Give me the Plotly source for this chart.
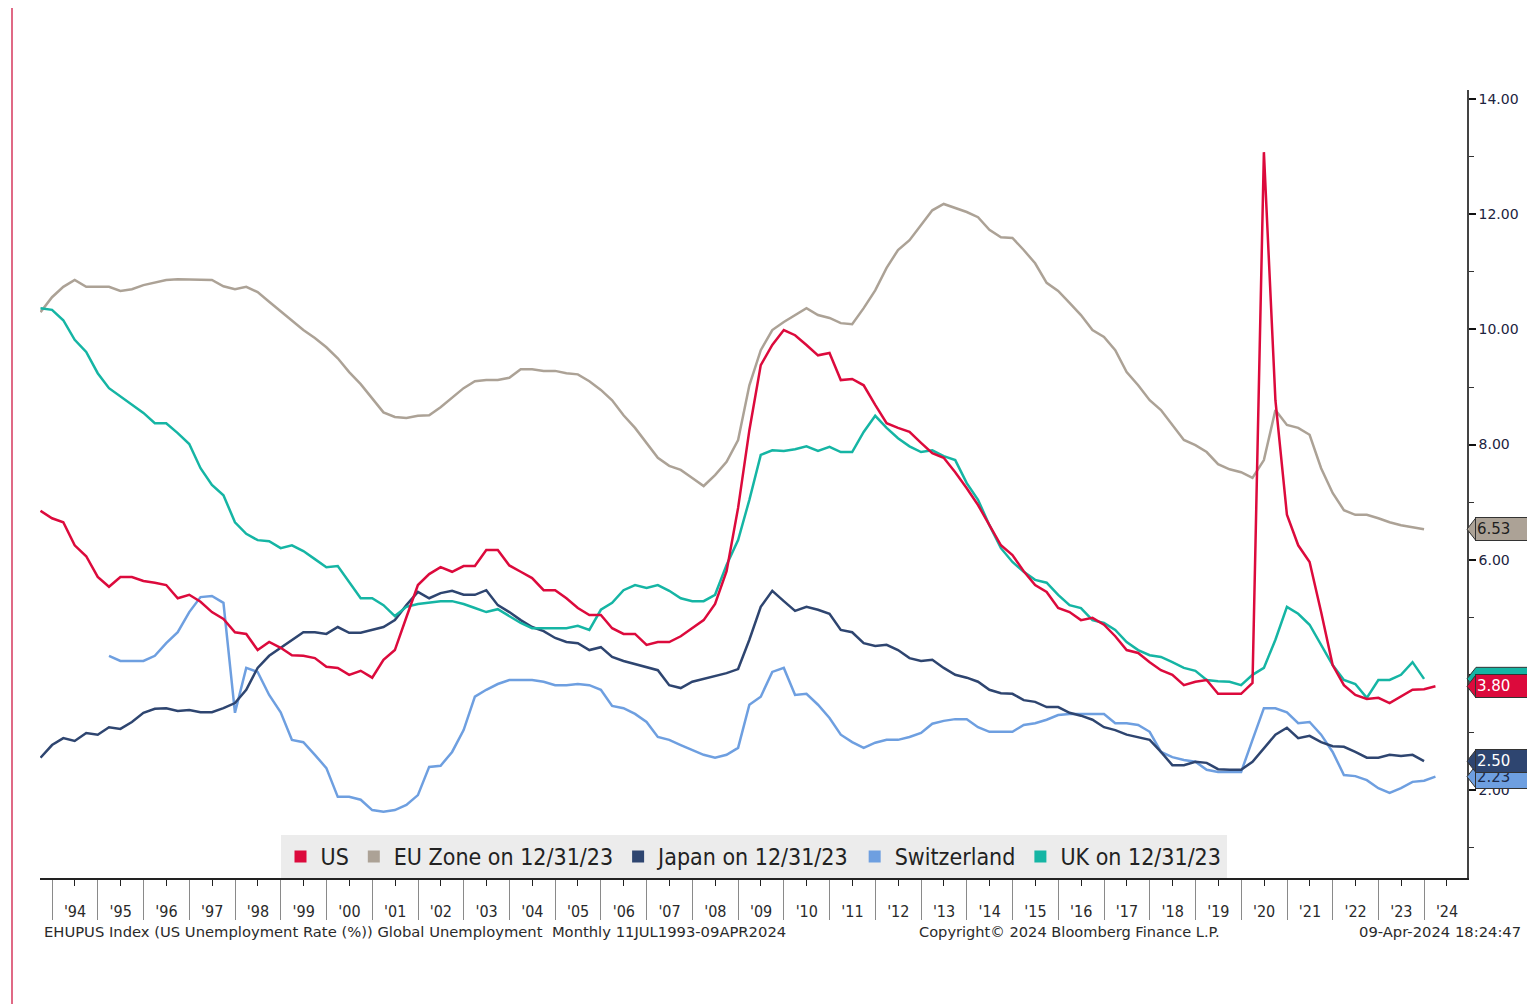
import pandas as pd
import plotly.graph_objects as go

# ---------------- data (quarterly) ----------------
start_quarter = "1993-09-30"
n_quarters = 123
swiss_offset = 6  # Switzerland starts 6 quarters later

us = [6.85, 6.72, 6.65, 6.25, 6.06, 5.70, 5.53, 5.70, 5.70, 5.63,
      5.60, 5.56, 5.33, 5.39, 5.27, 5.09, 4.97, 4.74, 4.71, 4.43,
      4.57, 4.47, 4.34, 4.33, 4.29, 4.14, 4.12, 4.00, 4.07, 3.95,
      4.26, 4.43, 5.00, 5.56, 5.75, 5.87, 5.79, 5.89, 5.89, 6.17,
      6.17, 5.90, 5.79, 5.68, 5.47, 5.47, 5.33, 5.16, 5.04, 5.04,
      4.81, 4.71, 4.71, 4.52, 4.57, 4.57, 4.67, 4.81, 4.95, 5.23,
      5.80, 6.90, 8.25, 9.38, 9.73, 9.99, 9.90, 9.73, 9.55, 9.59,
      9.12, 9.14, 9.03, 8.69, 8.37, 8.29, 8.22, 8.03, 7.85, 7.77,
      7.52, 7.24, 6.95, 6.60, 6.25, 6.08, 5.80, 5.56, 5.44, 5.16,
      5.09, 4.95, 4.99, 4.87, 4.67, 4.43, 4.38, 4.22, 4.08, 4.00,
      3.82, 3.88, 3.91, 3.67, 3.67, 3.67, 3.86, 13.08, 8.77, 6.78,
      6.25, 5.96, 5.09, 4.17, 3.82, 3.65, 3.58, 3.60, 3.51, 3.62,
      3.74, 3.75, 3.80]

eu = [10.30, 10.56, 10.74, 10.86, 10.74, 10.74, 10.74, 10.67, 10.70, 10.77,
      10.82, 10.86, 10.87, 10.87, 10.87, 10.86, 10.75, 10.70, 10.74, 10.65,
      10.48, 10.32, 10.15, 9.99, 9.85, 9.69, 9.50, 9.26, 9.05, 8.81,
      8.56, 8.48, 8.46, 8.50, 8.51, 8.65, 8.81, 8.98, 9.10, 9.12,
      9.12, 9.16, 9.31, 9.31, 9.28, 9.28, 9.24, 9.22, 9.10, 8.95,
      8.77, 8.51, 8.29, 8.03, 7.77, 7.63, 7.56, 7.42, 7.28, 7.47,
      7.70, 8.08, 9.03, 9.64, 9.99, 10.13, 10.25, 10.37, 10.25, 10.20,
      10.11, 10.09, 10.37, 10.68, 11.07, 11.38, 11.55, 11.81, 12.07, 12.18,
      12.11, 12.04, 11.95, 11.73, 11.60, 11.59, 11.38, 11.15, 10.81, 10.67,
      10.46, 10.25, 9.99, 9.87, 9.64, 9.26, 9.03, 8.77, 8.60, 8.34,
      8.08, 7.99, 7.87, 7.66, 7.57, 7.52, 7.42, 7.73, 8.60, 8.34,
      8.29, 8.17, 7.59, 7.16, 6.86, 6.78, 6.78, 6.72, 6.65, 6.60,
      6.57, 6.53]

uk = [10.37, 10.34, 10.16, 9.82, 9.61, 9.24, 8.98, 8.84, 8.69, 8.55,
      8.37, 8.37, 8.20, 8.01, 7.59, 7.30, 7.12, 6.65, 6.45, 6.34,
      6.32, 6.20, 6.25, 6.15, 6.01, 5.87, 5.89, 5.61, 5.33, 5.33,
      5.21, 5.02, 5.18, 5.23, 5.25, 5.28, 5.28, 5.23, 5.16, 5.09,
      5.14, 5.02, 4.90, 4.81, 4.81, 4.80, 4.81, 4.85, 4.78, 5.13,
      5.25, 5.47, 5.56, 5.51, 5.56, 5.46, 5.33, 5.28, 5.28, 5.39,
      5.91, 6.34, 7.04, 7.82, 7.90, 7.89, 7.92, 7.97, 7.89, 7.96,
      7.87, 7.87, 8.22, 8.50, 8.29, 8.11, 7.97, 7.87, 7.90, 7.80,
      7.73, 7.33, 7.04, 6.60, 6.20, 5.96, 5.79, 5.65, 5.60, 5.39,
      5.21, 5.16, 4.95, 4.90, 4.78, 4.57, 4.43, 4.34, 4.31, 4.22,
      4.12, 4.07, 3.91, 3.89, 3.88, 3.82, 4.00, 4.12, 4.61, 5.18,
      5.06, 4.87, 4.52, 4.17, 3.91, 3.84, 3.60, 3.91, 3.91, 4.00,
      4.22, 3.93]

japan = [2.56, 2.78, 2.90, 2.85, 2.99, 2.96, 3.09, 3.06, 3.18, 3.34,
         3.41, 3.42, 3.37, 3.39, 3.35, 3.35, 3.42, 3.51, 3.74, 4.12,
         4.33, 4.47, 4.61, 4.74, 4.74, 4.71, 4.83, 4.73, 4.73, 4.78,
         4.83, 4.95, 5.21, 5.44, 5.33, 5.42, 5.46, 5.39, 5.39, 5.47,
         5.21, 5.09, 4.95, 4.83, 4.76, 4.64, 4.57, 4.55, 4.43, 4.48,
         4.31, 4.24, 4.19, 4.14, 4.08, 3.82, 3.77, 3.88, 3.93, 3.98,
         4.03, 4.10, 4.61, 5.18, 5.46, 5.28, 5.11, 5.18, 5.13, 5.06,
         4.78, 4.74, 4.55, 4.50, 4.52, 4.43, 4.29, 4.24, 4.26, 4.12,
         4.00, 3.95, 3.88, 3.74, 3.68, 3.67, 3.56, 3.53, 3.44, 3.44,
         3.34, 3.29, 3.22, 3.09, 3.04, 2.96, 2.92, 2.87, 2.66, 2.43,
         2.43, 2.49, 2.47, 2.36, 2.35, 2.35, 2.49, 2.73, 2.96, 3.08,
         2.90, 2.94, 2.83, 2.76, 2.75, 2.66, 2.56, 2.56, 2.61, 2.59,
         2.61, 2.50]

switzerland = [4.33, 4.24, 4.24, 4.24, 4.33, 4.55, 4.74, 5.09, 5.35, 5.37,
               5.25, 3.34, 4.12, 4.05, 3.65, 3.35, 2.87, 2.83, 2.61, 2.38,
               1.88, 1.88, 1.83, 1.65, 1.62, 1.65, 1.74, 1.91, 2.40, 2.42,
               2.66, 3.04, 3.62, 3.74, 3.84, 3.91, 3.91, 3.91, 3.88, 3.82,
               3.82, 3.84, 3.82, 3.74, 3.46, 3.42, 3.32, 3.18, 2.92, 2.87,
               2.78, 2.69, 2.61, 2.56, 2.61, 2.73, 3.48, 3.62, 4.05, 4.12,
               3.65, 3.67, 3.48, 3.25, 2.96, 2.83, 2.73, 2.82, 2.87, 2.87,
               2.92, 2.99, 3.15, 3.20, 3.23, 3.23, 3.09, 3.01, 3.01, 3.01,
               3.13, 3.16, 3.22, 3.30, 3.32, 3.32, 3.32, 3.32, 3.16, 3.16,
               3.13, 3.01, 2.66, 2.57, 2.52, 2.49, 2.35, 2.31, 2.31, 2.31,
               2.87, 3.42, 3.42, 3.35, 3.16, 3.18, 2.96, 2.66, 2.26, 2.24,
               2.17, 2.03, 1.95, 2.03, 2.14, 2.16, 2.23]

series_names = ["US", "EU Zone on 12/31/23", "Japan on 12/31/23",
                "Switzerland", "UK on 12/31/23"]
series_colors = ["#dc0a3c", "#aca296", "#2e4570", "#6e9fe0", "#15b5a4"]
tag_text_colors = ["#ffffff", "#1e1e1e", "#ffffff", "#1b2a4a", "#15b5a4"]
tag_hidden = ["UK on 12/31/23"]  # tag covered by the US tag, number not shown

x_tick_format = "'%y"
y_tick_vals = [2, 4, 6, 8, 10, 12, 14]
y_tick_text = ["2.00", "4.00", "6.00", "8.00", "10.00", "12.00", "14.00"]

footer_left = "EHUPUS Index (US Unemployment Rate (%)) Global Unemployment\u00a0\u00a0Monthly 11JUL1993-09APR2024"
footer_mid = "Copyright\u00a9 2024 Bloomberg Finance L.P."
footer_right = "09-Apr-2024 18:24:47"

# ---------------- build ----------------
dates = pd.date_range(start_quarter, periods=n_quarters, freq=pd.offsets.QuarterEnd())

data = {
    "US": (dates[:len(us)], us),
    "EU Zone on 12/31/23": (dates[:len(eu)], eu),
    "Japan on 12/31/23": (dates[:len(japan)], japan),
    "Switzerland": (dates[swiss_offset:swiss_offset + len(switzerland)], switzerland),
    "UK on 12/31/23": (dates[:len(uk)], uk),
}
color_of = dict(zip(series_names, series_colors))
txtcol_of = dict(zip(series_names, tag_text_colors))

FONT = "DejaVu Sans Condensed, DejaVu Sans, sans-serif"
FOOT = "DejaVu Sans, sans-serif"

fig = go.Figure()

draw_order = ["EU Zone on 12/31/23", "Switzerland", "Japan on 12/31/23",
              "UK on 12/31/23", "US"]
for name in draw_order:
    xs, ys = data[name]
    fig.add_trace(go.Scatter(x=xs, y=ys, mode="lines", name=name,
                             line=dict(color=color_of[name], width=2.5),
                             showlegend=False, hoverinfo="skip"))

# legend entries with square swatches
for name in series_names:
    fig.add_trace(go.Scatter(x=[None], y=[None], mode="markers", name=name,
                             marker=dict(symbol="square", size=14,
                                         color=color_of[name]),
                             showlegend=True))

# last-value tags on the right axis
tag_order = ["UK on 12/31/23", "US", "Switzerland", "Japan on 12/31/23",
             "EU Zone on 12/31/23"]
for name in tag_order:
    last = data[name][1][-1]
    col = color_of[name]
    if name in tag_hidden:
        # whole tag as a shape; it lies beneath the US tag box
        fig.add_shape(type="path", xref="paper", xsizemode="pixel", xanchor=1,
                      yref="y", ysizemode="pixel", yanchor=last,
                      path="M 0 0 L 9 11.5 L 70 11.5 L 70 -11.5 L 9 -11.5 Z",
                      fillcolor=col, line=dict(color="#333333", width=1),
                      layer="above")
        continue
    fig.add_shape(type="path", xref="paper", xsizemode="pixel", xanchor=1,
                  yref="y", ysizemode="pixel", yanchor=last,
                  path="M 0 0 L 9 11.5 L 9 -11.5 Z",
                  fillcolor=col, line=dict(color="#333333", width=1),
                  layer="above")
    fig.add_annotation(xref="paper", yref="y", x=1, y=last, xanchor="left",
                       yanchor="middle", xshift=8, showarrow=False,
                       text=f"{last:.2f}", align="left", width=52, height=20,
                       bgcolor=col, bordercolor="#333333", borderwidth=1,
                       borderpad=1,
                       font=dict(family="DejaVu Sans, sans-serif", size=15,
                                 color=txtcol_of[name]))

# page border on the left
fig.add_shape(type="line", xref="paper", yref="paper", xsizemode="pixel",
              xanchor=0, x0=-28, x1=-28, y0=-0.2, y1=1.15,
              line=dict(color="#d6375d", width=1.5))

# footer texts
fig.add_annotation(xref="paper", yref="paper", x=0.0014, y=-0.0685,
                   xanchor="left", yanchor="middle", showarrow=False,
                   text=footer_left,
                   font=dict(family=FOOT, size=14.75, color="#2a2a2a"))
fig.add_annotation(xref="paper", yref="paper", x=0.7215, y=-0.0685,
                   xanchor="center", yanchor="middle", showarrow=False,
                   text=footer_mid,
                   font=dict(family=FOOT, size=14.6, color="#2a2a2a"))
fig.add_annotation(xref="paper", yref="paper", x=1.039, y=-0.0685,
                   xanchor="right", yanchor="middle", showarrow=False,
                   text=footer_right,
                   font=dict(family=FOOT, size=14.75, color="#2a2a2a"))

fig.update_layout(
    width=1535, height=1004,
    margin=dict(l=32, r=76, t=82, b=134),
    paper_bgcolor="white", plot_bgcolor="white",
    showlegend=True,
    legend=dict(orientation="h", x=0.5, xanchor="center", y=0, yanchor="bottom",
                bgcolor="#ececec", borderwidth=0,
                font=dict(family=FONT, size=23, color="#222222"),
                itemsizing="constant", itemwidth=30),
    xaxis=dict(type="date", range=["1993-09-26", "2024-12-08"],
               showgrid=False, zeroline=False,
               showline=True, linecolor="#222222", linewidth=1.5,
               dtick="M12", tick0="1994-01-01", ticks="outside",
               ticklen=40, tickcolor="#8a8a8a", tickwidth=1,
               ticklabelmode="period", tickformat=x_tick_format,
               ticklabelstandoff=-22,
               tickfont=dict(family=FONT, size=16, color="#2a2a2a"),
               minor=dict(dtick="M6", tick0="1994-01-01", ticks="outside",
                          ticklen=6, tickcolor="#222222", tickwidth=1)),
    yaxis=dict(side="right", range=[0.47, 14.16], showgrid=False,
               zeroline=False, showline=True, linecolor="#444444",
               linewidth=1.5, tickvals=y_tick_vals, ticktext=y_tick_text,
               ticks="outside", ticklen=7, tickwidth=2, tickcolor="#111111",
               tickfont=dict(family="DejaVu Sans, sans-serif", size=14,
                             color="#1c2340"),
               minor=dict(dtick=1, ticks="outside", ticklen=5,
                          tickcolor="#333333", tickwidth=1)),
)

fig.write_html("out.html")
